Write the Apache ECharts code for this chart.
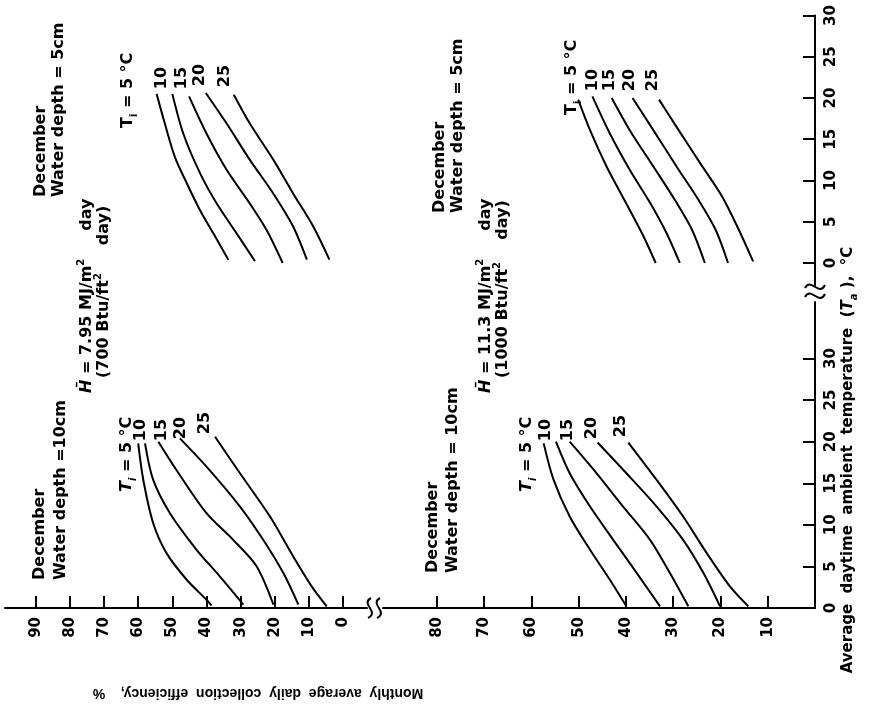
<!DOCTYPE html>
<html>
<head>
<meta charset="utf-8">
<script src="https://cdn.jsdelivr.net/npm/echarts@6/dist/echarts.min.js"></script>
<style>
html, body { margin: 0; padding: 0; background: #fff; }
#chart { width: 876px; height: 715px; }
</style>
</head>
<body>
<div id="chart"></div>
<script>
// tick values
const effTicksLeft = [0, 10, 20, 30, 40, 50, 60, 70, 80, 90];
const effTicksRight = [10, 20, 30, 40, 50, 60, 70, 80];
const tempTicks = [0, 5, 10, 15, 20, 25, 30];
const inletTemps = ['5', '10', '15', '20', '25'];

// curves: [efficiency %, ambient temperature °C]
// H = 7.95 MJ/m2 day, water depth 5 cm
const h795d5_Ti5 = [[54.6, 20.5], [52.2, 16.9], [49.3, 12.9], [45.8, 9.7], [41.9, 6.4], [38.0, 3.6], [33.6, 0.4]];
const h795d5_Ti10 = [[50.0, 20.5], [46.8, 15.7], [41.9, 10.9], [37.0, 7.2], [31.2, 3.6], [25.8, 0.2]];
const h795d5_Ti15 = [[45.1, 20.2], [40.0, 15.7], [34.1, 11.3], [27.3, 7.2], [22.4, 4.0], [17.7, 0.0]];
const h795d5_Ti20 = [[40.2, 20.6], [34.1, 16.9], [27.3, 12.5], [20.4, 8.4], [14.6, 4.4], [10.6, 0.4]];
const h795d5_Ti25 = [[32.0, 20.4], [27.3, 16.9], [20.4, 12.5], [14.6, 8.4], [8.7, 4.4], [4.0, 0.4]];

// H = 11.3 MJ/m2 day, water depth 5 cm
const h113d5_Ti5 = [[50.1, 19.8], [47.6, 16.1], [44.1, 11.7], [40.3, 7.6], [36.6, 3.6], [33.7, 0.0]];
const h113d5_Ti10 = [[47.1, 20.2], [43.4, 15.7], [39.2, 11.3], [34.8, 7.2], [31.4, 3.6], [28.6, 0.0]];
const h113d5_Ti15 = [[43.0, 20.0], [39.2, 16.1], [34.2, 11.7], [29.6, 7.6], [26.0, 4.0], [23.3, 0.0]];
const h113d5_Ti20 = [[38.6, 20.0], [34.2, 16.1], [29.3, 11.7], [24.6, 7.6], [21.0, 4.0], [18.4, 0.0]];
const h113d5_Ti25 = [[33.0, 19.8], [29.3, 16.5], [24.3, 12.1], [19.6, 8.0], [16.1, 4.0], [13.1, 0.2]];

// H = 7.95 MJ/m2 day, water depth 10 cm
const h795d10_Ti5 = [[60.0, 19.8], [58.5, 15.4], [55.6, 10.2], [51.7, 6.6], [45.8, 3.4], [40.0, 1.0], [38.5, 0.3]];
const h795d10_Ti10 = [[58.0, 19.8], [55.6, 15.4], [50.7, 11.4], [42.9, 7.0], [36.1, 3.8], [29.2, 0.4]];
const h795d10_Ti15 = [[54.1, 20.0], [48.8, 16.6], [40.0, 11.4], [32.2, 8.2], [25.3, 5.0], [20.4, 0.4]];
const h795d10_Ti20 = [[47.8, 20.4], [40.0, 17.0], [30.2, 12.2], [23.4, 8.2], [17.5, 4.2], [13.1, 0.4]];
const h795d10_Ti25 = [[37.5, 20.6], [30.2, 16.2], [21.4, 11.0], [14.6, 6.2], [9.2, 2.6], [4.8, 0.2]];

// H = 11.3 MJ/m2 day, water depth 10 cm
const h113d10_Ti5 = [[57.4, 19.8], [55.3, 15.4], [51.9, 11.0], [47.6, 7.0], [43.4, 3.4], [39.9, 0.2]];
const h113d10_Ti10 = [[54.8, 20.0], [51.9, 16.2], [47.6, 12.2], [42.7, 8.2], [37.7, 4.2], [32.8, 0.2]];
const h113d10_Ti15 = [[51.9, 20.0], [46.2, 16.2], [40.6, 12.2], [34.9, 8.2], [30.7, 4.2], [26.8, 0.2]];
const h113d10_Ti20 = [[46.0, 19.9], [39.9, 16.2], [33.5, 12.2], [27.9, 8.2], [23.6, 4.2], [20.1, 0.2]];
const h113d10_Ti25 = [[39.5, 19.9], [33.5, 15.4], [27.9, 11.0], [22.9, 6.6], [18.0, 2.6], [14.1, 0.2]];

const panels = [
    [h795d5_Ti5, h795d5_Ti10, h795d5_Ti15, h795d5_Ti20, h795d5_Ti25],
    [h113d5_Ti5, h113d5_Ti10, h113d5_Ti15, h113d5_Ti20, h113d5_Ti25],
    [h795d10_Ti5, h795d10_Ti10, h795d10_Ti15, h795d10_Ti20, h795d10_Ti25],
    [h113d10_Ti5, h113d10_Ti10, h113d10_Ti15, h113d10_Ti20, h113d10_Ti25]
];

const FONT = 'DejaVu Sans';

const chart = echarts.init(document.getElementById('chart'));

// series for the 4 panels
const series = [];
panels.forEach((curves, p) => {
    curves.forEach((data, i) => {
        series.push({
            name: 'p' + p + ' Ti=' + inletTemps[i],
            type: 'line',
            xAxisIndex: p,
            yAxisIndex: p,
            data: data,
            smooth: 0.3,
            symbol: 'none',
            lineStyle: { color: '#000', width: 2 },
            silent: true
        });
    });
});

const tickLabel = { color: '#000', fontFamily: FONT, fontWeight: 'bold', fontSize: 15 };

function effAxis(grid, range, ticks, visible) {
    return {
        type: 'value', gridIndex: grid, min: range[0], max: range[1], inverse: true,
        position: 'bottom', show: visible,
        axisLine: { show: true, lineStyle: { color: '#000', width: 2 } },
        axisTick: { show: true, inside: true, length: 12, lineStyle: { color: '#000', width: 2 }, customValues: ticks },
        axisLabel: Object.assign({ rotate: 90, margin: 9, customValues: ticks }, tickLabel),
        splitLine: { show: false }
    };
}

function tempAxis(grid, range, visible) {
    return {
        type: 'value', gridIndex: grid, min: range[0], max: range[1],
        position: 'right', show: visible,
        axisLine: { show: true, lineStyle: { color: '#000', width: 2 } },
        axisTick: { show: true, inside: true, length: 12, lineStyle: { color: '#000', width: 2 }, customValues: tempTicks },
        axisLabel: Object.assign({ rotate: 90, margin: 9, customValues: tempTicks }, tickLabel),
        splitLine: { show: false }
    };
}

// vertical text helper (reads bottom to top)
function vtext(x, y, text, size, align, rich) {
    return {
        type: 'text', x: x, y: y, rotation: Math.PI / 2, silent: true,
        style: {
            text: text, fill: '#000',
            font: 'bold ' + size + 'px ' + FONT,
            fontSize: size, fontFamily: FONT, fontWeight: 'bold',
            textAlign: align, align: align,
            textVerticalAlign: 'middle', verticalAlign: 'middle',
            rich: rich
        }
    };
}

function makeRich(size) {
    return {
        n: { fontSize: size, fontWeight: 'bold', fontFamily: FONT, lineHeight: 22, verticalAlign: 'middle' },
        it: { fontSize: size, fontWeight: 'bold', fontStyle: 'italic', fontFamily: FONT, lineHeight: 22, verticalAlign: 'middle' },
        sub: { fontSize: 10, fontWeight: 'bold', fontFamily: FONT, lineHeight: 11, verticalAlign: 'bottom' },
        subi: { fontSize: 10, fontWeight: 'bold', fontStyle: 'italic', fontFamily: FONT, lineHeight: 11, verticalAlign: 'bottom' },
        sup: { fontSize: 10, fontWeight: 'bold', fontFamily: FONT, lineHeight: 11, verticalAlign: 'top' }
    };
}
const rich = makeRich(16);
const rich15 = makeRich(15);

const breakStyle = { stroke: '#000', lineWidth: 2, fill: null };

const graphics = [
    // top-left panel
    vtext(41, 197, 'December', 16, 'left'),
    vtext(59, 197, 'Water depth = 5cm', 16, 'left'),
    vtext(87, 393, '{it|H\u0304}{n| = 7.95 MJ/m}{sup|2}{n|     day}', 16, 'left', rich),
    vtext(104, 378, '{n|(700 Btu/ft}{sup|2}{n|     day)}', 16, 'left', rich),
    vtext(128, 128, '{n|T}{sub|i}{n| = 5 °C}', 16, 'left', rich),
    vtext(162, 78, '10', 16, 'center'),
    vtext(182, 78, '15', 16, 'center'),
    vtext(200, 75, '20', 16, 'center'),
    vtext(225, 76, '25', 16, 'center'),
    // top-right panel
    vtext(440, 213, 'December', 16, 'left'),
    vtext(458, 213, 'Water depth = 5cm', 16, 'left'),
    vtext(486, 393, '{it|H\u0304}{n| = 11.3 MJ/m}{sup|2}{n|     day}', 16, 'left', rich),
    vtext(503, 378, '{n|(1000 Btu/ft}{sup|2}{n|    day)}', 16, 'left', rich),
    vtext(572, 115, '{n|T}{sub|i}{n| = 5 °C}', 16, 'left', rich),
    vtext(593, 80, '10', 16, 'center'),
    vtext(610, 80, '15', 16, 'center'),
    vtext(630, 80, '20', 16, 'center'),
    vtext(653, 80, '25', 16, 'center'),
    // bottom-left panel
    vtext(40, 580, 'December', 16, 'left'),
    vtext(61, 580, 'Water depth =10cm', 16, 'left'),
    vtext(127, 492, '{it|T}{subi|i}{n| = 5 °C}', 16, 'left', rich),
    vtext(141, 430, '10', 16, 'center'),
    vtext(162, 430, '15', 16, 'center'),
    vtext(181, 428, '20', 16, 'center'),
    vtext(205, 423, '25', 16, 'center'),
    // bottom-right panel
    vtext(433, 573, 'December', 16, 'left'),
    vtext(453, 573, 'Water depth = 10cm', 16, 'left'),
    vtext(527, 492, '{it|T}{subi|i}{n| = 5 °C}', 16, 'left', rich),
    vtext(546, 430, '10', 16, 'center'),
    vtext(568, 430, '15', 16, 'center'),
    vtext(592, 428, '20', 16, 'center'),
    vtext(621, 426, '25', 16, 'center'),
    // axis titles
    vtext(848, 460, '{n|Average  daytime  ambient  temperature  (}{it|T}{subi|a}{n| ),  °C}', 15, 'center', rich15),
    {
        type: 'text', x: 258, y: 693, rotation: Math.PI, silent: true,
        style: {
            text: 'Monthly  average  daily  collection  efficiency,    %', fill: '#000',
            font: 'bold 14px Liberation Sans', fontSize: 14, fontFamily: 'Liberation Sans', fontWeight: 'bold',
            textAlign: 'center', align: 'center', textVerticalAlign: 'middle', verticalAlign: 'middle'
        }
    },
    // axis breaks
    { type: 'bezierCurve', silent: true, shape: { x1: 371, y1: 598, x2: 368, y2: 618, cpx1: 360, cpy1: 604, cpx2: 380, cpy2: 612 }, style: breakStyle },
    { type: 'bezierCurve', silent: true, shape: { x1: 380, y1: 598, x2: 377, y2: 618, cpx1: 369, cpy1: 604, cpx2: 389, cpy2: 612 }, style: breakStyle },
    { type: 'bezierCurve', silent: true, shape: { x1: 805, y1: 288, x2: 825, y2: 285, cpx1: 811, cpy1: 277, cpx2: 819, cpy2: 297 }, style: breakStyle },
    { type: 'bezierCurve', silent: true, shape: { x1: 805, y1: 297, x2: 825, y2: 294, cpx1: 811, cpy1: 286, cpx2: 819, cpy2: 306 }, style: breakStyle }
];

const option = {
    animation: false,
    backgroundColor: '#fff',
    grid: [
        { left: 5, right: 509, top: 15.5, bottom: 430, outerBoundsMode: 'none' },
        { left: 383, right: 61, top: 15.5, bottom: 430, outerBoundsMode: 'none' },
        { left: 5, right: 509, top: 302, bottom: 107, outerBoundsMode: 'none' },
        { left: 383, right: 61, top: 302, bottom: 107, outerBoundsMode: 'none' }
    ],
    xAxis: [
        effAxis(0, [-7, 99], effTicksLeft, false),
        effAxis(1, [0, 91.4], effTicksRight, false),
        effAxis(2, [-7, 99], effTicksLeft, true),
        effAxis(3, [0, 91.4], effTicksRight, true)
    ],
    yAxis: [
        tempAxis(0, [-2.67, 30], false),
        tempAxis(1, [-2.67, 30], true),
        tempAxis(2, [0, 36.8], false),
        tempAxis(3, [0, 36.8], true)
    ],
    series: series,
    graphic: graphics
};
chart.setOption(option);

window.addEventListener('resize', () => chart.resize());
</script>
</body>
</html>
